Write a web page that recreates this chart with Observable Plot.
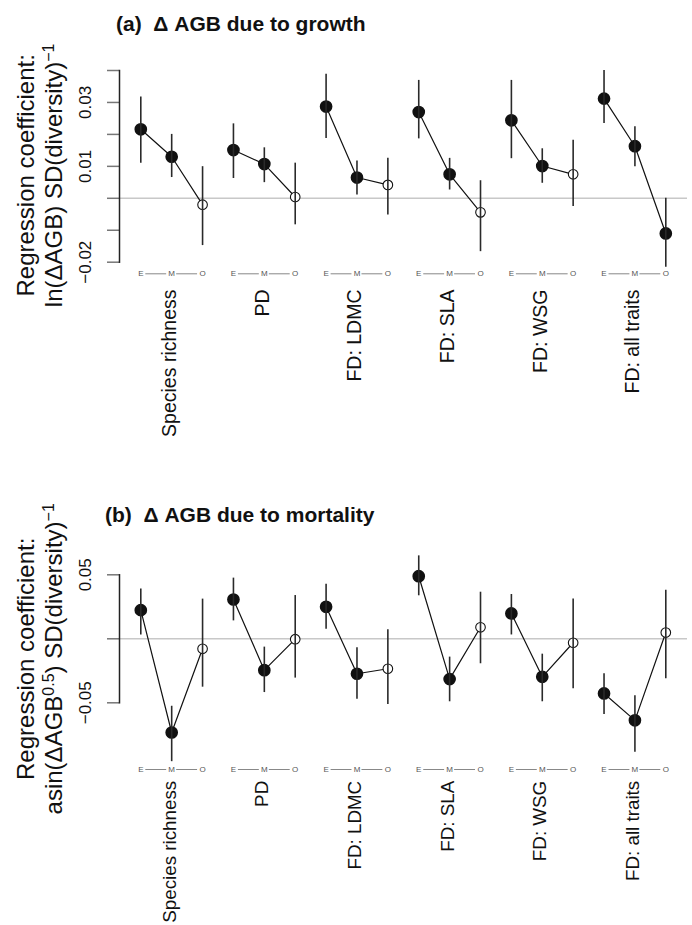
<!DOCTYPE html>
<html><head><meta charset="utf-8">
<script src="https://cdn.jsdelivr.net/npm/d3@7"></script>
<script src="https://cdn.jsdelivr.net/npm/@observablehq/plot@0.6"></script>
<style>
body{margin:0;background:#fff;}
#wrap{position:relative;width:692px;height:925px;overflow:hidden;font-family:"Liberation Sans",Arial,sans-serif;background:#fff;}
.ptitle{position:absolute;font-weight:bold;font-size:21px;line-height:21px;white-space:nowrap;color:#111;}
.panel{position:absolute;left:0;}
</style></head><body><div id="wrap"></div>
<script>
const categories = ["Species richness","PD","FD: LDMC","FD: SLA","FD: WSG","FD: all traits"];
const stages = ["E","M","O"];

// (a) ΔAGB due to growth — estimate, lower, upper, filled (significant)
const growthEst = [0.0216,0.0130,-0.0020, 0.0151,0.0107,0.0004, 0.0287,0.0065,0.0042, 0.0270,0.0075,-0.0044, 0.0244,0.0101,0.0075, 0.0312,0.0163,-0.0110];
const growthLo  = [0.0110,0.0065,-0.0148, 0.0062,0.0049,-0.0083, 0.0187,0.0010,-0.0052, 0.0186,0.0026,-0.0167, 0.0124,0.0047,-0.0026, 0.0234,0.0099,-0.0216];
const growthHi  = [0.0317,0.0200,0.0099, 0.0233,0.0158,0.0110, 0.0388,0.0117,0.0125, 0.0369,0.0125,0.0055, 0.0369,0.0155,0.0182, 0.0400,0.0224,0.0000];
const growthSig = [1,1,0, 1,1,0, 1,1,0, 1,1,0, 1,1,0, 1,1,1];
const growthTicks = [-0.02,-0.01,0,0.01,0.02,0.03,0.04];
const growthTickLabels = [-0.02,0.01,0.03];

// (b) ΔAGB due to mortality
const mortEst = [0.0224,-0.0732,-0.0078, 0.0307,-0.0245,-0.0003, 0.0250,-0.0273,-0.0234, 0.0489,-0.0315,0.0090, 0.0198,-0.0297,-0.0031, -0.0427,-0.0637,0.0049];
const mortLo  = [0.0030,-0.0960,-0.0378, 0.0140,-0.0420,-0.0307, 0.0075,-0.0472,-0.0513, 0.0336,-0.0492,-0.0195, 0.0030,-0.0492,-0.0390, -0.0591,-0.0887,-0.0313];
const mortHi  = [0.0390,-0.0527,0.0310, 0.0474,-0.0065,0.0338, 0.0427,-0.0070,0.0070, 0.0648,-0.0143,0.0364, 0.0346,-0.0120,0.0310, -0.0273,-0.0445,0.0380];
const mortSig = [1,1,0, 1,1,0, 1,1,0, 1,1,0, 1,1,0, 1,1,0];
const mortTicks = [-0.05,0,0.05];
const mortTickLabels = [-0.05,0.05];

const FONT = '"Liberation Sans", Arial, Helvetica, sans-serif';
const fmt = d3.format(".2f");

function panel(o) {
  const rows = o.est.map((v, i) => ({i, cat: categories[Math.floor(i / 3)], stage: stages[i % 3], est: v, lo: o.lo[i], hi: o.hi[i], sig: o.sig[i]}));
  const links = rows.filter(d => d.i % 3 < 2);
  const cats = categories.map((name, c) => ({name, mid: c * 3 + 1}));
  const svg = Plot.plot({
    width: 692, height: o.height,
    marginLeft: 119, marginRight: 5, marginTop: o.marginTop, marginBottom: o.marginBottom,
    x: {domain: [0, 17], range: [140.3, 665.3], axis: null},
    y: {domain: o.yDomain, axis: null},
    style: {fontFamily: FONT, background: "transparent", overflow: "visible", color: "#111"},
    marks: [
      Plot.ruleY([0], {stroke: "#c8c8c8", strokeWidth: 1.5}),
      Plot.axisY({ticks: o.ticks, tickSize: 12, tickFormat: () => "", stroke: "#777", strokeWidth: 1.5}),
      Plot.frame({anchor: "left", stroke: "#222", strokeWidth: 1.5}),
      Plot.text(o.tickLabels, {y: d => d, frameAnchor: "left", dx: -29, rotate: -90, textAnchor: "middle", lineAnchor: "bottom", text: d => fmt(d), fontSize: 17, fill: "#111"}),
      Plot.text(["Regression coefficient:"], {frameAnchor: "left", dx: -86, dy: o.titleDy, rotate: -90, textAnchor: "middle", lineAnchor: "bottom", text: d => d, fontSize: 24, fill: "#111"}),
      Plot.text([o.yTitle2], {frameAnchor: "left", dx: -58, dy: o.titleDy, rotate: -90, textAnchor: "middle", lineAnchor: "bottom", text: d => d, fontSize: 24, fill: "#111"}),
      Plot.ruleY(links, {x1: "i", x2: d => d.i + 1, y: () => o.yDomain[0], dy: o.emoDy, insetLeft: 5, insetRight: 5, stroke: "#888", strokeWidth: 1}),
      Plot.text(rows, {x: "i", text: "stage", frameAnchor: "bottom", dy: o.emoDy, textAnchor: "middle", lineAnchor: "middle", fontSize: 8, fill: "#555"}),
      Plot.text(cats, {x: "mid", text: "name", frameAnchor: "bottom", dy: o.catDy, dx: -2, rotate: -90, textAnchor: "end", lineAnchor: "middle", fontSize: o.catSize, fill: "#111"}),
      Plot.line(rows, {x: "i", y: "est", z: "cat", stroke: "#111", strokeWidth: 1.2}),
      Plot.dot(rows.filter(d => d.sig), {x: "i", y: "est", r: 5.6, fill: "#111", stroke: "#111"}),
      Plot.dot(rows.filter(d => !d.sig), {x: "i", y: "est", r: 4.8, fill: "white", stroke: "#111", strokeWidth: 1.1}),
      Plot.ruleX(rows, {x: "i", y1: "lo", y2: "hi", stroke: "#2a2a2a", strokeWidth: 1.6})
    ]
  });
  // superscripts in the second y-axis title line
  d3.select(svg).selectAll("text")
    .filter(function () { return this.textContent === o.yTitle2; })
    .each(function () {
      const t = d3.select(this);
      t.text(null);
      let raised = false;
      o.yTitle2Parts.forEach(([s, sup]) => {
        const ts = t.append("tspan").text(s);
        if (sup) { ts.attr("dy", raised ? 0 : -8).attr("font-size", "16px"); raised = true; }
        else { if (raised) ts.attr("dy", 8); raised = false; }
      });
    });
  return svg;
}

const wrap = document.getElementById("wrap");

const a = panel({
  est: growthEst, lo: growthLo, hi: growthHi, sig: growthSig,
  yDomain: [-0.02, 0.04], ticks: growthTicks, tickLabels: growthTickLabels,
  height: 470, marginTop: 70, marginBottom: 208.3, emoDy: 11.6, catDy: 27.3, catSize: 19.5, titleDy: 9,
  yTitle2: "ln(ΔAGB) SD(diversity)−1",
  yTitle2Parts: [["ln(ΔAGB) SD(diversity)", false], ["−1", true]]
});
a.classList.add("panel"); a.style.top = "0px";
wrap.appendChild(a);

const b = panel({
  est: mortEst, lo: mortLo, hi: mortHi, sig: mortSig,
  yDomain: [-0.05, 0.05], ticks: mortTicks, tickLabels: mortTickLabels,
  height: 455, marginTop: 104.3, marginBottom: 222.7, emoDy: 66.7, catDy: 78, catSize: 18.8, titleDy: 20,
  yTitle2: "asin(ΔAGB0.5) SD(diversity)−1",
  yTitle2Parts: [["asin(ΔAGB", false], ["0.5", true], [") SD(diversity)", false], ["−1", true]]
});
b.classList.add("panel"); b.style.top = "470px";
wrap.appendChild(b);

const ta = document.createElement("div");
ta.className = "ptitle"; ta.style.left = "116px"; ta.style.top = "13px";
ta.textContent = "(a)\u00a0\u00a0Δ AGB due to growth";
wrap.appendChild(ta);

const tb = document.createElement("div");
tb.className = "ptitle"; tb.style.left = "105px"; tb.style.top = "504px";
tb.textContent = "(b)\u00a0\u00a0Δ AGB due to mortality";
wrap.appendChild(tb);
</script></body></html>
